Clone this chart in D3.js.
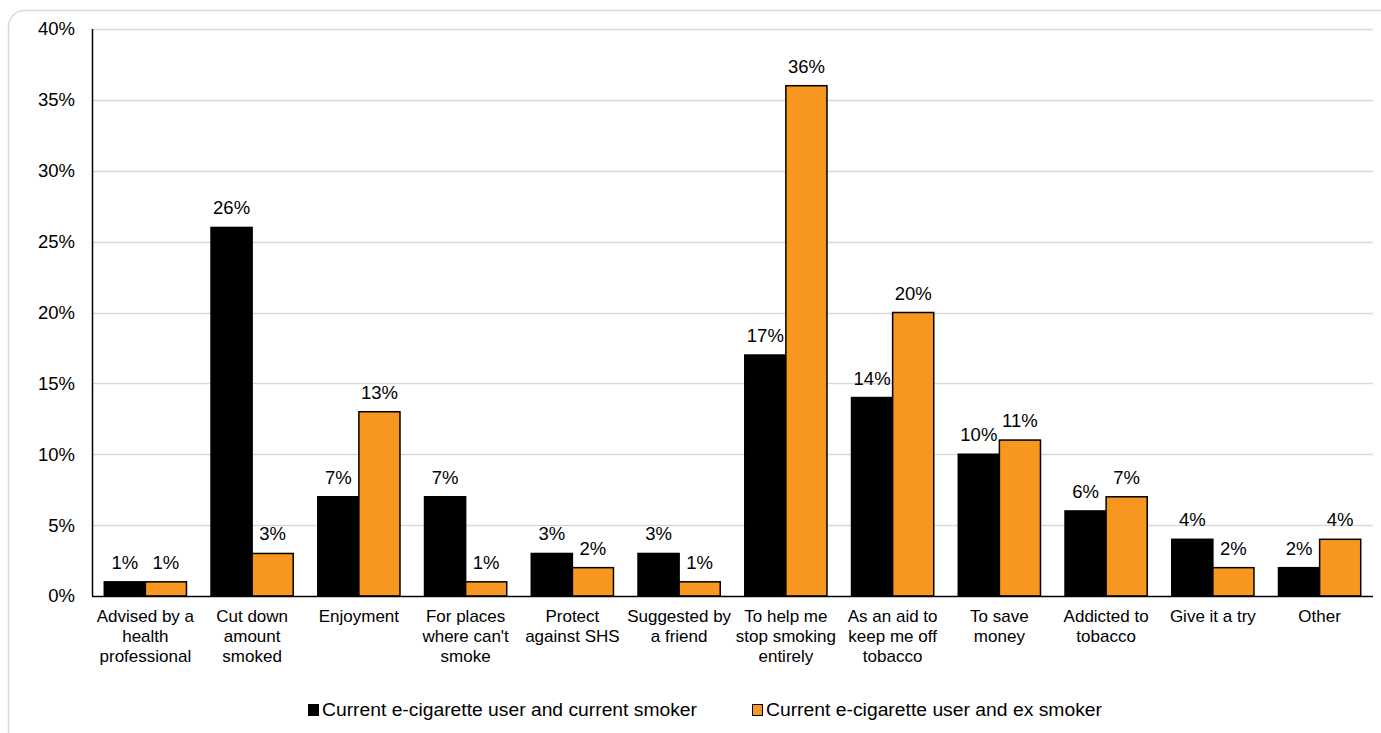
<!DOCTYPE html>
<html><head><meta charset="utf-8">
<script src="https://cdn.jsdelivr.net/npm/d3@7"></script>
<style>body{margin:0;background:#fff;} svg{display:block;font-family:"Liberation Sans",Arial,sans-serif;}</style>
</head><body>
<svg id="c" width="1381" height="733"></svg>
<script>
const categories = [
  ["Advised by a","health","professional"],
  ["Cut down","amount","smoked"],
  ["Enjoyment"],
  ["For places","where can't","smoke"],
  ["Protect","against SHS"],
  ["Suggested by","a friend"],
  ["To help me","stop smoking","entirely"],
  ["As an aid to","keep me off","tobacco"],
  ["To save","money"],
  ["Addicted to","tobacco"],
  ["Give it a try"],
  ["Other"]
];
const seriesNames = ["Current e-cigarette user and current smoker","Current e-cigarette user and ex smoker"];
const currentSmoker = [1,26,7,7,3,3,17,14,10,6,4,2];
const exSmoker = [1,3,13,1,2,1,36,20,11,7,2,4];
const yTicks = [0,5,10,15,20,25,30,35,40];
const colors = ["#000000","#F7971F"];

const svg = d3.select("#c");
svg.append("rect").attr("x",8.5).attr("y",10.5).attr("width",1390).attr("height",740)
  .attr("rx",16).attr("fill","#fff").attr("stroke","#d9d9d9").attr("stroke-width",1.5);

const pLeft=92, pRight=1373, pTop=29, pBottom=596;
const x = d3.scaleBand().domain(d3.range(categories.length)).range([pLeft,pRight]).paddingInner(0.23).paddingOuter(0.115);
const x1 = d3.scaleBand().domain([0,1]).range([0,x.bandwidth()]);
const y = d3.scaleLinear().domain([0,40]).range([pBottom,pTop]);

// gridlines
svg.append("g").selectAll("line").data(yTicks.filter(d=>d>0)).join("line")
  .attr("x1",pLeft).attr("x2",pRight).attr("y1",d=>Math.round(y(d))+0.5).attr("y2",d=>Math.round(y(d))+0.5)
  .attr("stroke","#d9d9d9").attr("stroke-width",1.5);

// y axis labels
const yAxis = svg.append("g").attr("transform",`translate(${pLeft},0)`)
  .call(d3.axisLeft(y).tickValues(yTicks).tickSize(0).tickPadding(17).tickFormat(d=>d+"%"));
yAxis.select(".domain").remove();
yAxis.selectAll("text").attr("font-size",18.5).attr("fill","#000").attr("font-family","Liberation Sans, Arial, sans-serif");

const data = categories.map((c,i)=>({i, vals:[currentSmoker[i], exSmoker[i]]}));
const g = svg.append("g").selectAll("g").data(data).join("g").attr("transform",d=>`translate(${x(d.i)},0)`);
g.selectAll("rect").data(d=>d.vals.map((v,k)=>({v,k}))).join("rect")
  .attr("x",d=>x1(d.k)).attr("width",x1.bandwidth())
  .attr("y",d=>y(d.v)).attr("height",d=>y(0)-y(d.v))
  .attr("fill",d=>colors[d.k]).attr("stroke","#000").attr("stroke-width",1.5);
g.selectAll("text").data(d=>d.vals.map((v,k)=>({v,k}))).join("text")
  .attr("x",d=>x1(d.k)+x1.bandwidth()/2).attr("y",d=>y(d.v)-13)
  .attr("text-anchor","middle").attr("font-size",18.5).text(d=>d.v+"%");

// axes lines
svg.append("line").attr("x1",pLeft+0.5).attr("x2",pLeft+0.5).attr("y1",pTop).attr("y2",pBottom).attr("stroke","#000").attr("stroke-width",1.5);
svg.append("line").attr("x1",pLeft).attr("x2",pRight).attr("y1",pBottom+0.5).attr("y2",pBottom+0.5).attr("stroke","#000").attr("stroke-width",1.5);

// category labels
const xa = svg.append("g").selectAll("text").data(categories).join("text")
  .attr("x",(d,i)=>x(i)+x.bandwidth()/2).attr("y",622).attr("text-anchor","middle").attr("font-size",17);
xa.selectAll("tspan").data(d=>d).join("tspan").attr("x",function(){return this.parentNode.getAttribute("x");})
  .attr("dy",(d,i)=>i===0?0:20).text(d=>d);

// legend
const leg = [{x:308,tx:322,w:375},{x:752,tx:766,w:336}];
leg.forEach((l,k)=>{
  svg.append("rect").attr("x",l.x+0.5).attr("y",704.5).attr("width",10).attr("height",11)
    .attr("fill",colors[k]).attr("stroke","#000").attr("stroke-width",1);
  svg.append("text").attr("x",l.tx).attr("y",716).attr("font-size",17.5)
    .attr("textLength",l.w).attr("lengthAdjust","spacingAndGlyphs").text(seriesNames[k]);
});
</script>
</body></html>
